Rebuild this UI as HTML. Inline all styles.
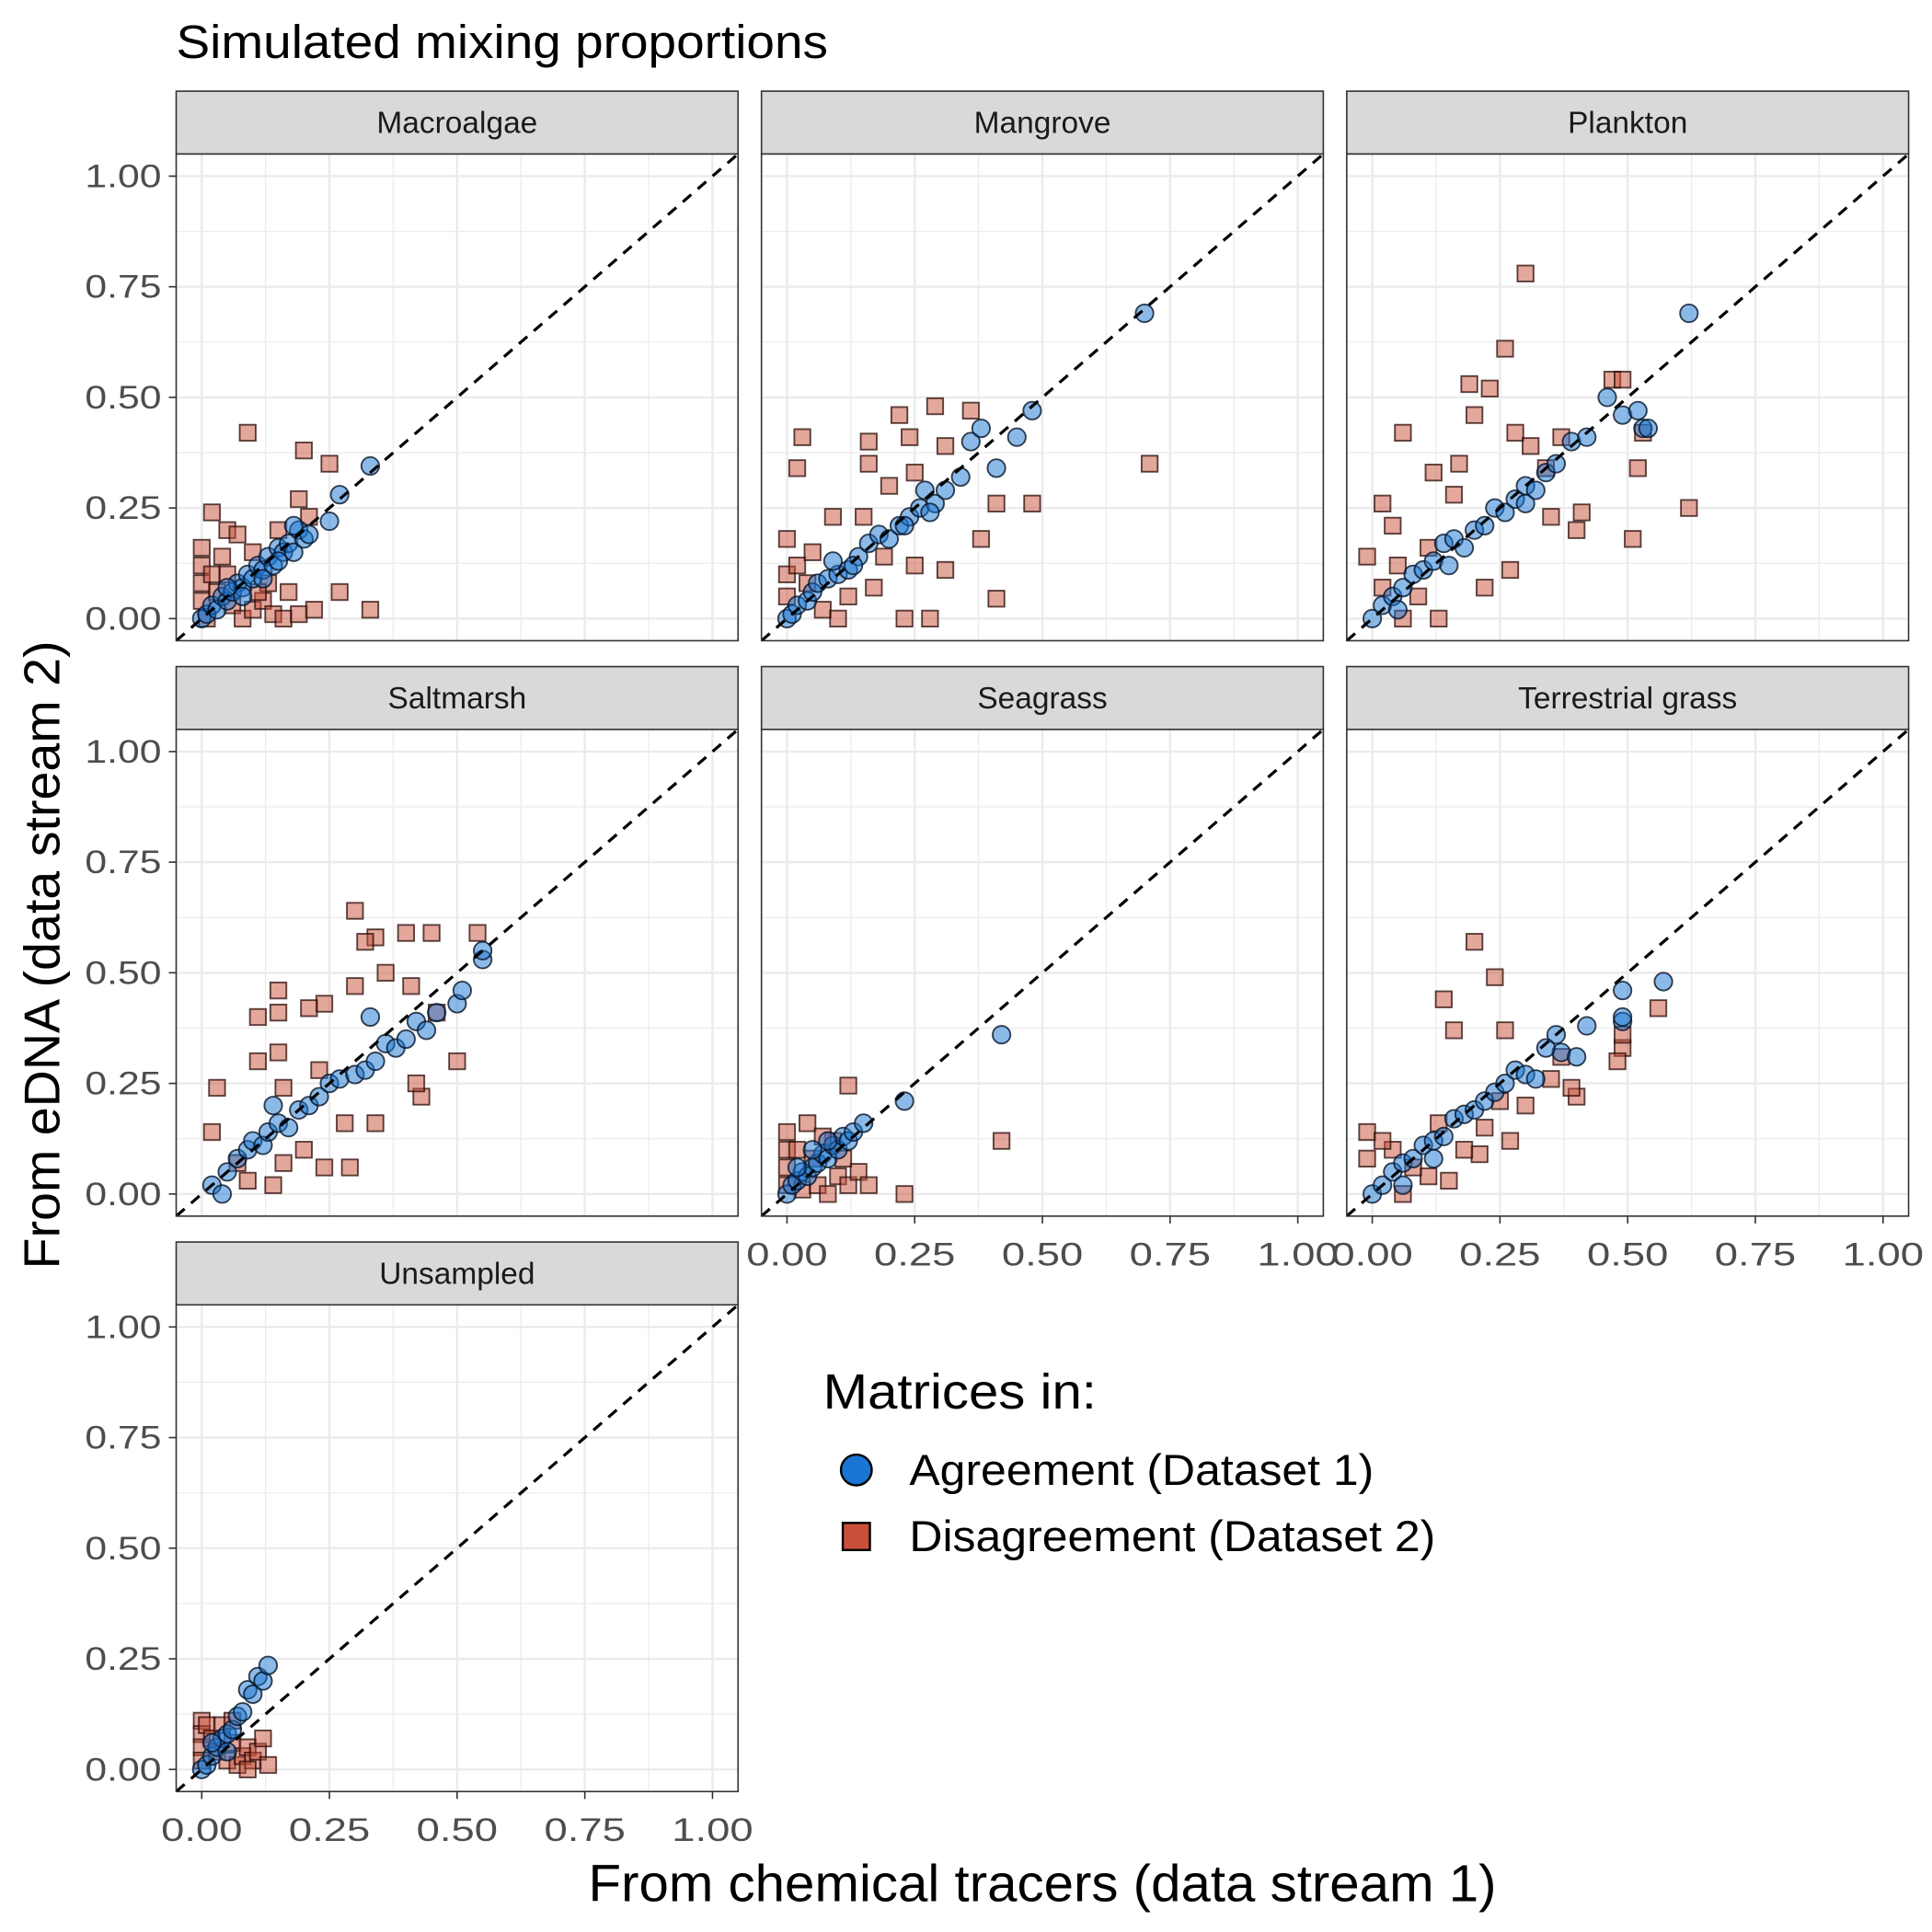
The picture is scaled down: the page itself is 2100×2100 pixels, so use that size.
<!DOCTYPE html>
<html><head><meta charset="utf-8">
<style>
html,body{margin:0;padding:0;background:#fff}
svg{display:block}
text{font-family:"Liberation Sans",Arial,sans-serif}
</style></head>
<body>
<svg id="chart" width="2100" height="2100" viewBox="0 0 1568 1568" xmlns="http://www.w3.org/2000/svg">
<rect x="0" y="0" width="1568" height="1568" fill="#fff"/>
<text x="143" y="47" font-size="38" fill="#000" textLength="529" lengthAdjust="spacingAndGlyphs">Simulated mixing proportions</text>
<text transform="translate(48,775) rotate(-90)" text-anchor="middle" font-size="41" fill="#000" textLength="510" lengthAdjust="spacingAndGlyphs">From eDNA (data stream 2)</text>
<text x="846" y="1543" text-anchor="middle" font-size="42" fill="#000" textLength="737" lengthAdjust="spacingAndGlyphs">From chemical tracers (data stream 1)</text>
<g>
<text x="668" y="1143" font-size="40" fill="#000" textLength="222" lengthAdjust="spacingAndGlyphs">Matrices in:</text>
<g>
<circle cx="695" cy="1193" r="12.5" fill="#1976D2" stroke="#000" stroke-width="1.8"/>
<text x="738" y="1205" font-size="35" fill="#000" textLength="377" lengthAdjust="spacingAndGlyphs">Agreement (Dataset 1)</text>
</g>
<g>
<rect x="684" y="1236" width="22" height="22" fill="#C8503A" stroke="#000" stroke-width="1.8"/>
<text x="738" y="1259" font-size="35" fill="#000" textLength="427" lengthAdjust="spacingAndGlyphs">Disagreement (Dataset 2)</text>
</g>
</g>
<g id="panels"></g>
</svg>
<script>
const facetNames = ["Macroalgae","Mangrove","Plankton","Saltmarsh","Seagrass","Terrestrial grass","Unsampled"];
const tickValues = [0,0.25,0.5,0.75,1];
const tickLabels = ["0.00","0.25","0.50","0.75","1.00"];
const agreeMacroalgae = [[0,0],[0.01,0.01],[0.02,0.03],[0.03,0.02],[0.04,0.05],[0.05,0.04],[0.06,0.06],[0.07,0.08],[0.08,0.07],[0.09,0.1],[0.1,0.09],[0.11,0.12],[0.12,0.11],[0.13,0.14],[0.14,0.12],[0.15,0.16],[0.16,0.15],[0.17,0.17],[0.18,0.15],[0.19,0.2],[0.2,0.18],[0.21,0.19],[0.18,0.21],[0.25,0.22],[0.27,0.28],[0.33,0.345],[0.08,0.05],[0.12,0.09],[0.05,0.07],[0.15,0.13]];
const disMacroalgae = [[0.09,0.42],[0.2,0.38],[0.25,0.35],[0.02,0.24],[0.27,0.06],[0.33,0.02],[0.19,0.27],[0.05,0.2],[0.07,0.19],[0,0.16],[0,0.12],[0,0.08],[0,0.04],[0.02,0.1],[0.04,0.14],[0.03,0.06],[0.06,0.03],[0.08,0],[0.1,0.02],[0.12,0.04],[0.14,0.01],[0.16,0],[0.19,0.01],[0.22,0.02],[0.13,0.08],[0.17,0.06],[0.1,0.15],[0.15,0.2],[0.21,0.23],[0.11,0.06],[0.01,0],[0.05,0.1]];
const agreeMangrove = [[0,0],[0.01,0.01],[0.02,0.03],[0.04,0.04],[0.05,0.06],[0.06,0.08],[0.08,0.09],[0.1,0.1],[0.12,0.11],[0.14,0.14],[0.16,0.17],[0.18,0.19],[0.2,0.18],[0.22,0.21],[0.24,0.23],[0.26,0.25],[0.27,0.29],[0.29,0.26],[0.31,0.29],[0.34,0.32],[0.36,0.4],[0.38,0.43],[0.41,0.34],[0.45,0.41],[0.48,0.47],[0.7,0.69],[0.09,0.13],[0.13,0.12],[0.23,0.21],[0.28,0.24]];
const disMangrove = [[0.22,0.46],[0.29,0.48],[0.36,0.47],[0.24,0.41],[0.16,0.4],[0.03,0.41],[0.02,0.34],[0.16,0.35],[0.25,0.33],[0.31,0.39],[0.41,0.26],[0.48,0.26],[0.71,0.35],[0.41,0.045],[0.38,0.18],[0.31,0.11],[0.28,0],[0.23,0],[0.17,0.07],[0.09,0.23],[0,0.18],[0.15,0.23],[0,0.1],[0,0.05],[0.02,0.12],[0.05,0.15],[0.07,0.02],[0.1,0],[0.12,0.05],[0.04,0.08],[0.2,0.3],[0.25,0.12],[0.19,0.14]];
const agreePlankton = [[0,0],[0.02,0.03],[0.04,0.05],[0.06,0.07],[0.08,0.1],[0.1,0.11],[0.12,0.13],[0.14,0.17],[0.16,0.18],[0.18,0.16],[0.2,0.2],[0.22,0.21],[0.24,0.25],[0.26,0.24],[0.28,0.27],[0.3,0.3],[0.32,0.29],[0.34,0.33],[0.36,0.35],[0.39,0.4],[0.42,0.41],[0.46,0.5],[0.49,0.46],[0.52,0.47],[0.53,0.43],[0.54,0.43],[0.62,0.69],[0.15,0.12],[0.05,0.02],[0.3,0.26]];
const disPlankton = [[0.3,0.78],[0.26,0.61],[0.19,0.53],[0.23,0.52],[0.06,0.42],[0.2,0.46],[0.28,0.42],[0.31,0.39],[0.47,0.54],[0.49,0.54],[0.52,0.34],[0.53,0.42],[0.51,0.18],[0.62,0.25],[0.41,0.24],[0.4,0.2],[0.35,0.23],[0.27,0.11],[0.22,0.07],[0.16,0.28],[0.17,0.35],[0.12,0.33],[0.02,0.26],[0.04,0.21],[-0.01,0.14],[0.06,0],[0.13,0],[0.34,0.34],[0.37,0.41],[0.02,0.07],[0.05,0.12],[0.09,0.05],[0.11,0.16]];
const agreeSaltmarsh = [[0.02,0.02],[0.04,0.0],[0.05,0.05],[0.07,0.08],[0.09,0.1],[0.1,0.12],[0.12,0.11],[0.13,0.14],[0.15,0.16],[0.17,0.15],[0.19,0.19],[0.21,0.2],[0.23,0.22],[0.25,0.25],[0.27,0.26],[0.3,0.27],[0.32,0.28],[0.34,0.3],[0.36,0.34],[0.38,0.33],[0.4,0.35],[0.42,0.39],[0.44,0.37],[0.46,0.41],[0.5,0.43],[0.51,0.46],[0.55,0.53],[0.55,0.55],[0.14,0.2],[0.33,0.4]];
const disSaltmarsh = [[0.3,0.64],[0.34,0.58],[0.32,0.57],[0.4,0.59],[0.45,0.59],[0.54,0.59],[0.3,0.47],[0.36,0.5],[0.41,0.47],[0.24,0.43],[0.15,0.46],[0.11,0.4],[0.15,0.41],[0.21,0.42],[0.46,0.41],[0.5,0.3],[0.43,0.22],[0.42,0.25],[0.03,0.24],[0.11,0.3],[0.15,0.32],[0.02,0.14],[0.07,0.07],[0.14,0.02],[0.24,0.06],[0.29,0.06],[0.34,0.16],[0.28,0.16],[0.2,0.1],[0.16,0.24],[0.23,0.28],[0.16,0.07],[0.09,0.03]];
const agreeSeagrass = [[0,0],[0.01,0.02],[0.02,0.03],[0.03,0.05],[0.04,0.04],[0.05,0.06],[0.06,0.07],[0.07,0.09],[0.08,0.08],[0.09,0.11],[0.1,0.1],[0.11,0.13],[0.12,0.12],[0.13,0.14],[0.15,0.16],[0.05,0.1],[0.08,0.12],[0.23,0.21],[0.42,0.36],[0.02,0.06]];
const disSeagrass = [[0.42,0.12],[0.23,0],[0.12,0.245],[0.09,0.12],[0,0.14],[0,0.1],[0,0.06],[0,0.02],[0.02,0.1],[0.04,0.16],[0.03,0.01],[0.06,0.02],[0.08,0],[0.1,0.04],[0.12,0.02],[0.14,0.05],[0.16,0.02],[0.07,0.13],[0.11,0.08],[0.05,0.08]];
const agreeTerrestrial = [[0,0],[0.02,0.02],[0.04,0.05],[0.06,0.07],[0.08,0.08],[0.1,0.11],[0.12,0.12],[0.14,0.13],[0.16,0.17],[0.18,0.18],[0.2,0.19],[0.22,0.21],[0.24,0.23],[0.26,0.25],[0.28,0.28],[0.3,0.27],[0.32,0.26],[0.36,0.36],[0.37,0.32],[0.4,0.31],[0.42,0.38],[0.49,0.39],[0.49,0.4],[0.49,0.46],[0.57,0.48],[0.12,0.08],[0.06,0.02],[0.34,0.33]];
const disTerrestrial = [[0.2,0.57],[0.24,0.49],[0.14,0.44],[0.16,0.37],[0.26,0.37],[0.37,0.31],[0.49,0.33],[0.49,0.36],[0.56,0.42],[0.48,0.3],[0.4,0.22],[0.39,0.24],[0.25,0.21],[0.21,0.09],[0.11,0.04],[-0.01,0.14],[-0.01,0.08],[0.06,0],[0.15,0.03],[0.04,0.1],[0.08,0.06],[0.18,0.1],[0.22,0.15],[0.3,0.2],[0.02,0.12],[0.13,0.16],[0.35,0.26],[0.27,0.12]];
const agreeUnsampled = [[0,0],[0.01,0.01],[0.02,0.03],[0.03,0.05],[0.04,0.07],[0.05,0.08],[0.06,0.09],[0.07,0.12],[0.08,0.13],[0.09,0.18],[0.1,0.17],[0.11,0.21],[0.12,0.2],[0.13,0.235],[0.02,0.06],[0.05,0.04]];
const disUnsampled = [[0,0.11],[0,0.08],[0,0.05],[0,0.02],[0.01,0.1],[0.02,0.07],[0.03,0.04],[0.04,0.1],[0.05,0.02],[0.06,0.06],[0.07,0.01],[0.08,0.03],[0.09,0.05],[0.1,0.02],[0.11,0.04],[0.12,0.07],[0.13,0.01],[0.06,0.11],[0.09,0.0]];
const agreeSets = [agreeMacroalgae,agreeMangrove,agreePlankton,agreeSaltmarsh,agreeSeagrass,agreeTerrestrial,agreeUnsampled];
const disSets = [disMacroalgae,disMangrove,disPlankton,disSaltmarsh,disSeagrass,disTerrestrial,disUnsampled];

const NS="http://www.w3.org/2000/svg";
const root=document.getElementById('panels');
const colX=[143,618,1093], rowY=[74,541,1008];
const PW=456, PH=395, SH=51;
const dMin=-0.05, dMax=1.05;
function mk(tag,attrs,parent){const e=document.createElementNS(NS,tag);for(const k in attrs)e.setAttribute(k,attrs[k]);parent.appendChild(e);return e;}
facetNames.forEach((name,i)=>{
  const c=i%3, r=Math.floor(i/3);
  const px=colX[c], sy=rowY[r], py=sy+SH;
  const xs=v=>px+(v-dMin)/(dMax-dMin)*PW;
  const ys=v=>py+PH-(v-dMin)/(dMax-dMin)*PH;
  const g=mk('g',{},root);
  
  
  const strip=mk('rect',{x:px,y:sy,width:PW,height:SH,fill:'#D9D9D9',stroke:'#333','stroke-width':1.2},g);
  
  
  const st=mk('text',{x:px+PW/2,y:sy+34,'text-anchor':'middle','font-size':25,fill:'#1a1a1a'},g);
  st.textContent=name;
  
  
  mk('rect',{x:px,y:py,width:PW,height:PH,fill:'#fff'},g);
  const cid='clip'+i;
  const cp=mk('clipPath',{id:cid},g); mk('rect',{x:px,y:py,width:PW,height:PH},cp);
  const grid=mk('g',{'clip-path':'url(#'+cid+')'},g);
  
  
  [0.125,0.375,0.625,0.875].forEach(v=>{
    mk('line',{x1:xs(v),x2:xs(v),y1:py,y2:py+PH,stroke:'#EBEBEB','stroke-width':0.9},grid);
    mk('line',{x1:px,x2:px+PW,y1:ys(v),y2:ys(v),stroke:'#EBEBEB','stroke-width':0.9},grid);
  });
  tickValues.forEach(v=>{
    mk('line',{x1:xs(v),x2:xs(v),y1:py,y2:py+PH,stroke:'#EBEBEB','stroke-width':1.8},grid);
    mk('line',{x1:px,x2:px+PW,y1:ys(v),y2:ys(v),stroke:'#EBEBEB','stroke-width':1.8},grid);
  });
  const pts=mk('g',{'clip-path':'url(#'+cid+')'},g);
  disSets[i].forEach(d=>{
    const s=13;
    const m=mk('rect',{x:xs(d[0])-s/2,y:ys(d[1])-s/2,width:s,height:s,fill:'rgba(200,80,58,0.5)',stroke:'rgba(40,10,5,0.75)','stroke-width':1.4},pts);
    
    
  });
  agreeSets[i].forEach(d=>{
    const m=mk('circle',{cx:xs(d[0]),cy:ys(d[1]),r:7.2,fill:'rgba(25,118,210,0.5)',stroke:'rgba(5,20,40,0.8)','stroke-width':1.4},pts);
    
    
  });
  const dl=mk('line',{x1:xs(dMin),y1:ys(dMin),x2:xs(dMax),y2:ys(dMax),stroke:'#000','stroke-width':2.4,'stroke-dasharray':'9,7','clip-path':'url(#'+cid+')'},g);
  
  
  mk('rect',{x:px,y:py,width:PW,height:PH,fill:'none',stroke:'#333','stroke-width':1.2},g);
  if(c===0){
    tickValues.forEach((v,k)=>{
      mk('line',{x1:px-6,x2:px,y1:ys(v),y2:ys(v),stroke:'#333','stroke-width':1.2},g);
      const t=mk('text',{x:px-12,y:ys(v)+9,'text-anchor':'end','font-size':26,fill:'#4d4d4d','textLength':62,'lengthAdjust':'spacingAndGlyphs'},g);
      t.textContent=tickLabels[k];
      
      
    });
  }
  const bottom = (r===2) || (r===1 && c>0);
  if(bottom){
    tickValues.forEach((v,k)=>{
      mk('line',{x1:xs(v),x2:xs(v),y1:py+PH,y2:py+PH+6,stroke:'#333','stroke-width':1.2},g);
      const t=mk('text',{x:xs(v),y:py+PH+40,'text-anchor':'middle','font-size':26,fill:'#4d4d4d','textLength':66,'lengthAdjust':'spacingAndGlyphs'},g);
      t.textContent=tickLabels[k];
      
      
    });
  }
});
</script>
</body></html>
